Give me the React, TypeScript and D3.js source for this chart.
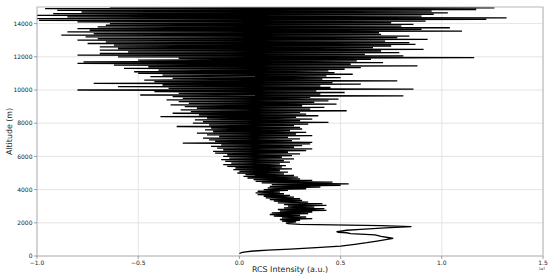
import React from 'react';
import * as d3 from 'd3';

// clean part of the profile near the ground (altitude in m, RCS in 1e7 a.u.)
const lowAlt = [150, 200, 250, 300, 360, 420, 500, 600, 700, 800, 900, 1000, 1060, 1100, 1180, 1270, 1350, 1400, 1430, 1470, 1500, 1550, 1600, 1700, 1770, 1830, 1900, 1950, 2000];
const lowRcs = [0.0, 0.01, 0.03, 0.07, 0.14, 0.25, 0.38, 0.5, 0.57, 0.63, 0.68, 0.73, 0.76, 0.74, 0.7, 0.67, 0.55, 0.53, 0.49, 0.48, 0.5, 0.53, 0.6, 0.72, 0.85, 0.7, 0.3, 0.24, 0.23];

// noisy part: left / right swing of the signal every 100 m from 2000 to 15000 m
const bandLo = [
  0.23, 0.21, 0.2, 0.21, 0.17, 0.15, 0.16, 0.2, 0.19, 0.22,
  0.24, 0.22, 0.19, 0.17, 0.15, 0.13, 0.12, 0.09, 0.08, 0.09,
  0.12, 0.14, 0.15, 0.16, 0.11, 0.08, 0.07, 0.04, 0.02, 0.03,
  -0.01, 0.0, -0.03, -0.02, -0.06, -0.08, -0.04, -0.07, -0.09, -0.05,
  -0.08, -0.06, -0.12, -0.13, -0.08, -0.11, -0.14, -0.09, -0.28, -0.12,
  -0.15, -0.18, -0.1, -0.16, -0.21, -0.13, -0.17, -0.14, -0.31, -0.15,
  -0.23, -0.18, -0.22, -0.16, -0.39, -0.2, -0.33, -0.24, -0.29, -0.21,
  -0.27, -0.34, -0.25, -0.3, -0.36, -0.28, -0.33, -0.49, -0.3, -0.42,
  -0.8, -0.35, -0.6, -0.38, -0.72, -0.42, -0.47, -0.33, -0.44, -0.38,
  -0.5, -0.52, -0.4, -0.57, -0.45, -0.62, -0.8, -0.77, -0.5, -0.3,
  -0.6, -0.8, -0.69, -0.55, -0.69, -0.6, -0.69, -0.62, -0.75, -0.66,
  -0.8, -0.7, -0.76, -0.88, -0.72, -0.85, -0.74, -0.8, -0.7, -0.66,
  -0.64, -0.8, -0.99, -1.0, -0.85, -1.0, -0.92, -0.78, -0.9, -0.96,
  -0.64,
];
const bandHi = [
  0.28, 0.3, 0.36, 0.33, 0.3, 0.34, 0.36, 0.43, 0.42, 0.37,
  0.43, 0.41, 0.34, 0.31, 0.3, 0.27, 0.25, 0.22, 0.2, 0.24,
  0.33, 0.4, 0.5, 0.54, 0.46, 0.36, 0.3, 0.29, 0.27, 0.22,
  0.24, 0.2, 0.26, 0.21, 0.23, 0.2, 0.25, 0.22, 0.27, 0.21,
  0.26, 0.3, 0.24, 0.33, 0.36, 0.27, 0.31, 0.35, 0.36, 0.26,
  0.3, 0.24, 0.36, 0.28, 0.33, 0.25, 0.31, 0.3, 0.27, 0.34,
  0.44, 0.3, 0.36, 0.28, 0.39, 0.33, 0.3, 0.53, 0.35, 0.42,
  0.31, 0.48, 0.37, 0.44, 0.49, 0.35, 0.81, 0.4, 0.52, 0.38,
  0.86, 0.45, 0.4, 0.6, 0.46, 0.78, 0.41, 0.5, 0.43, 0.56,
  0.47, 0.44, 0.52, 0.6, 0.88, 0.55, 0.71, 0.58, 0.65, 1.16,
  0.81, 0.62, 0.79, 0.7, 0.91, 0.66, 0.75, 0.87, 0.84, 0.72,
  0.93, 0.78, 0.84, 0.7, 0.69, 1.1, 0.9, 1.04, 0.8, 0.86,
  0.75, 0.92, 1.22, 1.32, 0.9, 0.96, 1.03, 0.95, 1.17, 1.26,
  0.82,
];
const bandStart = 2000;
const bandStep = 100;

const xTicks = [-1.0, -0.5, 0.0, 0.5, 1.0, 1.5];
const yTicks = [0, 2000, 4000, 6000, 8000, 10000, 12000, 14000];

const W = 550;
const H = 278;
const margin = { top: 7, right: 7, bottom: 22, left: 37 };

export default function App() {
  const x = d3.scaleLinear().domain([-1.0, 1.5]).range([margin.left, W - margin.right]);
  const y = d3.scaleLinear().domain([0, 15000]).range([H - margin.bottom, margin.top]);

  // build the profile: clean part, then zig-zag through the noisy swings
  const pts: [number, number][] = lowAlt.map((a, i) => [lowRcs[i], a]);
  bandLo.forEach((lo, i) => {
    const a = bandStart + i * bandStep;
    pts.push([lo, a]);
    pts.push([bandHi[i], a + bandStep / 2]);
  });

  const line = d3.line<[number, number]>()
    .x(d => x(d[0]))
    .y(d => y(d[1]));

  const font = 'DejaVu Sans, sans-serif';
  const x0 = margin.left;
  const x1 = W - margin.right;
  const y0 = H - margin.bottom;
  const y1 = margin.top;

  return (
    <div style={{ position: 'fixed', left: 0, top: 0 }}>
      <svg width={W} height={H} style={{ display: 'block', background: '#fff' }}>
        {/* grid */}
        {xTicks.map(t => (
          <line key={'gx' + t} x1={x(t)} x2={x(t)} y1={y0} y2={y1} stroke="#dddddd" strokeWidth={0.8} />
        ))}
        {yTicks.map(t => (
          <line key={'gy' + t} x1={x0} x2={x1} y1={y(t)} y2={y(t)} stroke="#dddddd" strokeWidth={0.8} />
        ))}

        <clipPath id="plot">
          <rect x={x0} y={y1} width={x1 - x0} height={y0 - y1} />
        </clipPath>
        <path d={line(pts) || ''} fill="none" stroke="#000" strokeWidth={1.3} strokeLinejoin="miter" clipPath="url(#plot)" />

        {/* frame */}
        <rect x={x0} y={y1} width={x1 - x0} height={y0 - y1} fill="none" stroke="#b0b0b0" strokeWidth={0.9} />

        {/* ticks */}
        {xTicks.map(t => (
          <g key={'tx' + t}>
            <line x1={x(t)} x2={x(t)} y1={y0} y2={y0 + 3} stroke="#888" strokeWidth={0.8} />
            <text x={x(t)} y={y0 + 9} textAnchor="middle" fontFamily={font} fontSize={6} fill="#222">
              {t < 0 ? '\u2212' + Math.abs(t).toFixed(1) : t.toFixed(1)}
            </text>
          </g>
        ))}
        {yTicks.map(t => (
          <g key={'ty' + t}>
            <line x1={x0 - 3} x2={x0} y1={y(t)} y2={y(t)} stroke="#888" strokeWidth={0.8} />
            <text x={x0 - 4.5} y={y(t) + 2.2} textAnchor="end" fontFamily={font} fontSize={6} fill="#222">
              {t}
            </text>
          </g>
        ))}

        <text x={x1 - 1} y={y0 + 14} textAnchor="middle" fontFamily={font} fontSize={3.5} fill="#222">1e7</text>

        <text x={(x0 + x1) / 2} y={272} textAnchor="middle" fontFamily={font} fontSize={7.9} fill="#222">
          RCS Intensity (a.u.)
        </text>
        <text transform={`translate(12,${(y0 + y1) / 2}) rotate(-90)`} textAnchor="middle" fontFamily={font} fontSize={7.9} fill="#222">
          Altitude (m)
        </text>
      </svg>
    </div>
  );
}
